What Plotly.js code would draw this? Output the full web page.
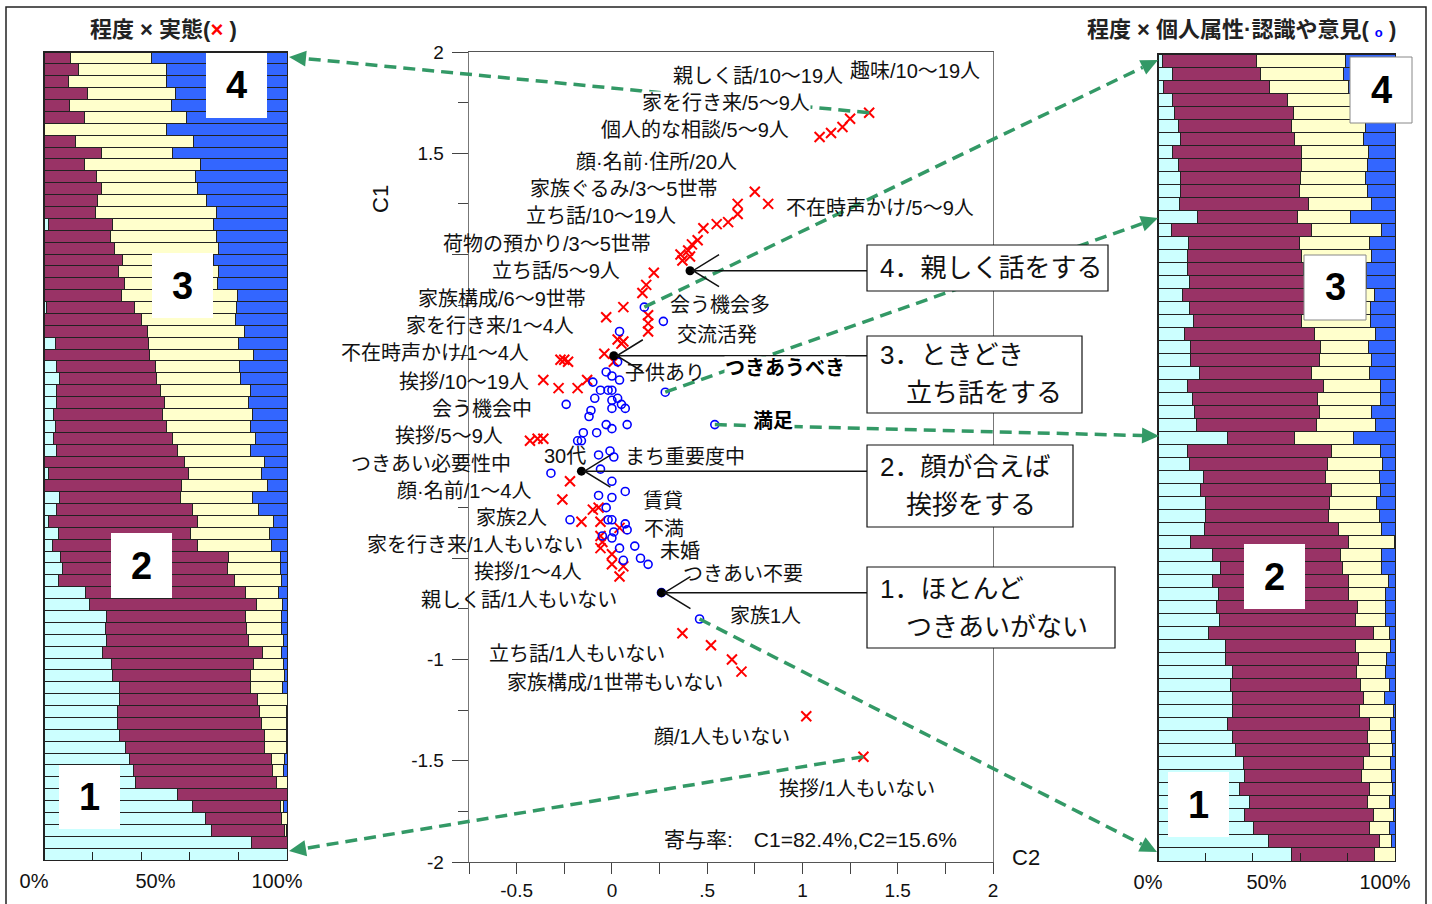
<!DOCTYPE html>
<html><head><meta charset="utf-8">
<script src="https://cdn.plot.ly/plotly-3.0.1.min.js"></script>
<style>html,body{margin:0;padding:0;background:#fff;}#chart{width:1432px;height:904px;}</style>
</head><body><div id="chart"></div>
<script>
// ---------- DATA ----------
// Left stacked bars: 程度 × 実態 (68 rows, % by level 1..4)
const leftLevel1 = [0,0,0,0,0,0,0,0,0,0,0,0,0,0,1.9,0,0,0,0,0,0,1.0,0,0,4.7,0,5.1,6.5,5.1,5.1,4.1,4.7,4.1,5.1,0,1.7,0,6.5,5.1,1.7,6.1,3.7,6.9,7.8,6.1,17.1,18.6,25.7,25.3,25.7,24.1,27.8,28.2,31.2,30.9,30.1,30.1,31.2,33.7,35.1,37.0,37.8,54.9,61.1,66.4,69.1,85.3,100];
const leftLevel2 = [11.0,14.3,10.2,17.9,10.6,16.5,0,12.9,23.7,16.8,21.6,23.7,22.0,21.2,26.3,27.4,29.2,32.3,30.5,33.0,31.9,36.4,40.2,42.6,38.5,43.6,40.6,39.9,42.9,44.3,44.6,45.8,48.9,49.8,57.8,57.7,56.7,49.8,56.1,61.4,54.3,59.4,69.2,67.9,72.2,65.8,69.0,57.2,58.2,58.6,65.7,58.4,56.9,53.9,57.1,58.5,59.3,59.6,57.1,58.7,57.2,57.7,45.1,36.4,31.5,29.8,14.7,0];
const leftLevel3 = [33.3,36.2,40.3,36.4,41.9,42.2,50.5,48.6,29.3,47.8,40.6,39.4,45.0,49.9,41.5,43.7,42.6,37.4,41.3,38.4,47.7,41.7,38.6,39.8,37.0,42.6,34.8,34.6,36.9,34.9,37.0,34.4,34.1,30.2,33.0,30.0,35.3,29.4,27.2,31.4,32.2,30.7,21.4,21.8,19.6,13.4,10.7,15.0,14.4,14.3,8.1,12.4,13.8,13.2,12.0,11.0,10.2,8.8,8.8,5.1,4.4,4.5,0,1.1,2.1,0.8,0,0];
const leftLevel4 = [55.7,49.5,49.5,45.7,47.5,41.3,49.5,38.5,47.0,35.4,37.8,36.9,33.0,28.9,30.3,28.9,28.2,30.3,28.2,28.6,20.4,20.9,21.2,17.6,19.8,13.8,19.5,19.0,15.1,15.7,14.3,15.1,12.9,14.9,9.2,10.6,8.0,14.3,11.6,5.5,7.4,6.2,2.5,2.5,2.1,3.7,1.7,2.1,2.1,1.4,2.1,1.4,1.1,1.7,0,0.4,0.4,0.4,0.4,1.1,1.4,0,0,1.4,0,0.3,0,0];
// Right stacked bars: 程度 × 個人属性・認識や意見 (62 rows)
const rightLevel1 = [2.1,6.3,2.5,6.3,6.8,8.5,9.6,6.3,8.5,9.6,9.6,8.9,16.5,5.9,12.7,12.3,12.3,13.1,10.3,13.1,15.1,11.0,13.8,13.8,17.3,12.4,14.5,15.2,16.2,29.2,12.4,13.4,19.0,17.9,20.1,20.1,19.7,13.8,23.2,26.3,23.2,25.4,24.6,25.8,21.4,28.5,28.5,31.3,30.6,31.3,31.3,29.3,31.4,32.5,35.9,36.3,34.2,38.5,36.6,40.4,46.5,56.3];
const rightLevel2 = [39.4,36.9,44.7,48.3,50.2,47.8,48.1,54.3,52.1,50.5,50.3,54.5,42.2,58.9,47.2,48.4,49.0,49.0,51.5,49.0,45.5,54.9,54.8,54.5,47.5,57.6,52.8,53.1,50.7,28.3,61.0,58.1,51.7,55.5,52.2,51.9,56.6,66.5,53.8,51.4,57.1,54.9,59.6,57.7,69.4,54.9,56.3,52.5,54.9,55.3,53.9,59.9,56.9,56.7,50.7,49.6,55.0,50.0,54.2,49.0,46.9,35.0];
const rightLevel3 = [37.8,35.0,33.3,29.4,28.5,31.4,28.9,28.1,27.9,27.6,28.4,26.7,22.7,29.3,29.3,29.4,26.7,26.0,29.7,27.6,29.1,25.9,20.3,21.8,24.4,23.7,26.6,21.8,24.9,24.9,20.3,23.3,22.7,20.3,20.0,21.4,17.8,19.3,17.4,16.4,16.9,15.5,11.9,12.3,6.8,14.5,11.7,12.3,12.1,8.8,14.1,9.0,10.3,9.8,11.6,12.7,9.7,9.1,8.5,8.2,5.2,8.7];
const rightLevel4 = [20.7,21.8,19.5,16.0,14.5,12.3,13.4,11.3,11.5,12.3,11.7,9.9,18.6,5.9,10.8,9.9,12.0,11.9,8.5,10.3,10.3,8.2,11.1,9.9,10.8,6.3,6.1,9.9,8.2,17.6,6.3,5.2,6.6,6.3,7.7,6.6,5.9,0.4,5.6,5.9,2.8,4.2,3.9,4.2,2.4,2.1,3.5,3.9,2.4,4.6,0.7,1.8,1.4,1.0,1.8,1.4,1.1,2.4,0.7,2.4,1.4,0];
// Correspondence analysis scores: 実態 categories (×)
const jittaiC2 = [1.35,1.25,1.21,1.15,1.09,0.75,0.82,0.66,0.66,0.61,0.55,0.48,0.45,0.42,0.40,0.36,0.41,0.37,0.22,0.18,0.16,0.06,-0.03,0.19,0.19,0.19,0.05,0.03,0.06,-0.04,0.01,-0.27,-0.25,-0.23,-0.36,-0.28,-0.18,-0.13,-0.43,-0.39,-0.36,-0.22,-0.26,-0.16,-0.10,-0.07,-0.06,0.04,-0.06,-0.05,-0.06,0.00,0.00,0.06,0.04,0.37,0.52,0.63,0.68,1.02,1.32];
const jittaiC1 = [1.70,1.67,1.63,1.60,1.58,1.31,1.25,1.25,1.20,1.16,1.15,1.13,1.07,1.05,1.02,1.00,0.99,0.97,0.91,0.85,0.81,0.74,0.69,0.70,0.66,0.62,0.56,0.58,0.57,0.51,0.47,0.48,0.48,0.47,0.38,0.34,0.34,0.38,0.08,0.09,0.09,-0.12,-0.21,-0.32,-0.26,-0.25,-0.32,-0.35,-0.39,-0.42,-0.45,-0.48,-0.53,-0.54,-0.59,-0.87,-0.93,-1.00,-1.06,-1.28,-1.48];
// 個人属性・認識や意見 categories (○)
const zokuseiC2 = [0.17,0.27,0.04,0.03,-0.03,0.00,0.04,-0.10,-0.06,-0.02,0.00,0.28,-0.24,-0.09,0.00,0.03,0.05,0.07,0.00,-0.11,-0.12,-0.03,0.00,0.08,-0.15,-0.08,-0.18,-0.16,0.54,-0.32,-0.01,0.01,-0.07,-0.06,0.00,0.07,-0.07,0.00,-0.03,-0.22,-0.02,0.00,0.07,0.08,0.01,-0.05,0.00,0.04,0.12,0.15,0.19,0.06,0.26,0.46];
const zokuseiC1 = [0.74,0.67,0.62,0.47,0.42,0.40,0.38,0.37,0.33,0.33,0.33,0.32,0.26,0.29,0.28,0.29,0.26,0.24,0.24,0.23,0.20,0.16,0.14,0.16,0.12,0.12,0.08,0.08,0.16,-0.08,0.03,0.00,0.01,-0.06,-0.12,-0.17,-0.19,-0.20,-0.25,-0.31,-0.31,-0.31,-0.33,-0.36,-0.37,-0.39,-0.40,-0.45,-0.44,-0.50,-0.53,-0.51,-0.67,-0.80];
// 程度 levels 1..4 (centroids)
const levelC2 = [0.26,-0.16,0.01,0.41];
const levelC1 = [-0.67,-0.07,0.50,0.92];
const levelNames = ['1．ほとんど|　つきあいがない','2．顔が合えば|　挨拶をする','3．ときどき|　立ち話をする','4．親しく話をする'];
const xTickVals = [-0.5,0,0.5,1,1.5,2];
const xTickText = ['-0.5','0','.5','1','1.5','2'];
const yTickVals = [2,1.5,1,0.5,0,-0.5,-1,-1.5,-2];
const yTickText = ['2','1.5','','','','','-1','-1.5','-2'];
const pctVals = [0,50,100];
const pctText = ['0%','50%','100%'];

// ---------- LAYOUT HELPERS ----------
const W=1432,H=904;
const PX=x=>x/W, PY=y=>1-y/H;
const MX={l:469,r:993,min:-0.75,max:2.0}, MY={t:52,b:862,min:-2,max:2};
function d2p(x,y){return [MX.l+(x-MX.min)/(MX.max-MX.min)*(MX.r-MX.l), MY.b-(y-MY.min)/(MY.max-MY.min)*(MY.b-MY.t)];}
const F="'Liberation Sans','Noto Sans CJK JP',sans-serif";
const segColors=['#CCFFFF','#993366','#FFFFCC','#3366FF'];
const green='#339966';

const traces=[];
const rowsL=leftLevel1.map((_,i)=>i+1), rowsR=rightLevel1.map((_,i)=>i+1);
[leftLevel1,leftLevel2,leftLevel3,leftLevel4].forEach((v,k)=>traces.push({type:'bar',orientation:'h',x:v,y:rowsL,xaxis:'x2',yaxis:'y2',marker:{color:segColors[k],line:{color:'#222',width:1}},showlegend:false,hoverinfo:'skip'}));
[rightLevel1,rightLevel2,rightLevel3,rightLevel4].forEach((v,k)=>traces.push({type:'bar',orientation:'h',x:v,y:rowsR,xaxis:'x3',yaxis:'y3',marker:{color:segColors[k],line:{color:'#222',width:1}},showlegend:false,hoverinfo:'skip'}));
traces.push({type:'scatter',mode:'markers',x:jittaiC2,y:jittaiC1,xaxis:'x',yaxis:'y',marker:{symbol:'x-thin-open',size:10,line:{color:'#ff0000',width:2},color:'#ff0000'},showlegend:false,hoverinfo:'skip',cliponaxis:false});
traces.push({type:'scatter',mode:'markers',x:zokuseiC2,y:zokuseiC1,xaxis:'x',yaxis:'y',marker:{symbol:'circle-open',size:8,line:{color:'#0000ff',width:1.6},color:'#0000ff'},showlegend:false,hoverinfo:'skip',cliponaxis:false});

const shapes=[], ann=[];
// outer frame
shapes.push({type:'rect',xref:'paper',yref:'paper',x0:PX(6),x1:PX(1426),y0:PY(7),y1:PY(940),line:{color:'#222',width:1.5},fillcolor:'rgba(0,0,0,0)',layer:'above'});

// dashed green arrows: tail at a plotted point, head on a bar row
function dashArrow(tx,ty,hx,hy){
  const [x1,y1]=d2p(tx,ty);
  const dx=hx-x1, dy=hy-y1, L=Math.hypot(dx,dy), ux=dx/L, uy=dy/L;
  const bx=hx-ux*17, by=hy-uy*17;
  shapes.push({type:'line',xref:'paper',yref:'paper',x0:PX(x1),y0:PY(y1),x1:PX(bx),y1:PY(by),line:{color:green,width:3.5,dash:'12px,7px'},layer:'above'});
  const nx=-uy, ny=ux;
  shapes.push({type:'path',xref:'paper',yref:'paper',path:`M ${PX(hx)} ${PY(hy)} L ${PX(bx+nx*8)} ${PY(by+ny*8)} L ${PX(bx-nx*8)} ${PY(by-ny*8)} Z`,fillcolor:green,line:{width:0},layer:'above'});
}
dashArrow(jittaiC2[0],jittaiC1[0],289,57);
dashArrow(zokuseiC2[0],zokuseiC1[0],1158,60);
dashArrow(zokuseiC2[11],zokuseiC1[11],1158,218);
dashArrow(zokuseiC2[28],zokuseiC1[28],1159,436);
dashArrow(zokuseiC2[53],zokuseiC1[53],1157,852);
dashArrow(jittaiC2[60],jittaiC1[60],289,851);

// level boxes
const boxes=[[867,567,1115,648],[867,445,1073,527],[867,336,1082,413],[867,245,1108,291]];
boxes.forEach((b,i)=>{
  shapes.push({type:'rect',xref:'paper',yref:'paper',x0:PX(b[0]),x1:PX(b[2]),y0:PY(b[1]),y1:PY(b[3]),fillcolor:'#fff',line:{color:'#111',width:1.2},layer:'above'});
  const lines=levelNames[i].split('|');
  const cy=(b[1]+b[3])/2;
  lines.forEach((t,j)=>{
    const yy = lines.length===1? cy : cy + (j===0?-19:19);
    ann.push({text:t,xref:'paper',yref:'paper',x:PX(b[0]+11),y:PY(yy),xanchor:'left',yanchor:'middle',showarrow:false,font:{family:F,size:26,color:'#111'}});
  });
  // centroid pointer
  const [cx,cyy]=d2p(levelC2[i],levelC1[i]);
  const x0=cx+3;
  shapes.push({type:'path',xref:'paper',yref:'paper',path:`M ${PX(x0)} ${PY(cyy)} L ${PX(b[0])} ${PY(cyy)} M ${PX(x0+26)} ${PY(cyy-16)} L ${PX(x0)} ${PY(cyy)} L ${PX(x0+26)} ${PY(cyy+16)}`,line:{color:'#111',width:1.5},layer:'above'});
});
traces.push({type:'scatter',mode:'markers',x:levelC2,y:levelC1,xaxis:'x',yaxis:'y',marker:{symbol:'circle',size:9,color:'#000'},showlegend:false,hoverinfo:'skip'});

// number boxes on bar charts
const numBoxes=[[206,53,267,118,'4',0],[152,253,213,318,'3',0],[111,533,172,598,'2',0],[59,765,120,829,'1',0],
                [1350,57,1412,123,'4',1],[1304,255,1366,320,'3',1],[1244,544,1305,609,'2',0],[1168,772,1229,837,'1',0]];
numBoxes.forEach(b=>{
  shapes.push({type:'rect',xref:'paper',yref:'paper',x0:PX(b[0]),x1:PX(b[2]),y0:PY(b[1]),y1:PY(b[3]),fillcolor:'#fff',line:{color:b[5]?'#888':'rgba(0,0,0,0)',width:1},layer:'above'});
  ann.push({text:'<b>'+b[4]+'</b>',xref:'paper',yref:'paper',x:PX((b[0]+b[2])/2),y:PY((b[1]+b[3])/2),xanchor:'center',yanchor:'middle',showarrow:false,font:{family:F,size:38,color:'#000'}});
});

// category labels in the map
const labels=[
 ['親しく話/10～19人',675,840,76],['趣味/10～19人',845,985,71],['家を行き来/5～9人',641,812,103,1],
 ['個人的な相談/5～9人',596,793,130],['顔·名前·住所/20人',567,745,162],['家族ぐるみ/3～5世帯',527,720,189],
 ['不在時声かけ/5～9人',780,980,208],['立ち話/10～19人',523,678,216],['荷物の預かり/3～5世帯',439,655,244],
 ['立ち話/5～9人',490,622,271],['家族構成/6～9世帯',412,591,299],['会う機会多',670,770,305],
 ['家を行き来/1～4人',404,576,326],['交流活発',674,760,335],['不在時声かけ/1～4人',336,534,353],
 ['子供あり',627,703,373],['挨拶/10～19人',395,532,382],['会う機会中',432,531,409],
 ['挨拶/5～9人',392,505,436],['30代',542,587,456],['まち重要度中',623,746,457],
 ['つきあい必要性中',350,512,464],['顔·名前/1～4人',390,537,491],['賃貸',642,684,501],
 ['家族2人',474,549,518],['不満',643,684,529],['家を行き来/1人もいない',367,582,545],
 ['未婚',659,700,551],['挨拶/1～4人',471,585,572],['つきあい不要',683,802,574],
 ['親しく話/1人もいない',425,612,600],['家族1人',728,802,616],['立ち話/1人もいない',488,665,654],
 ['家族構成/1世帯もいない',503,727,683],['顔/1人もいない',654,790,737],['挨拶/1人もいない',778,935,789]
];
labels.forEach(l=>{
  const a={text:l[0],xref:'paper',yref:'paper',x:PX((l[1]+l[2])/2),y:PY(l[3]),xanchor:'center',yanchor:'middle',showarrow:false,font:{family:F,size:20,color:'#111'}};
  if(l[4]){a.bgcolor='#fff';a.borderpad=0;}
  ann.push(a);
});
ann.push({text:'<b>つきあうべき</b>',xref:'paper',yref:'paper',x:PX(785),y:PY(368),xanchor:'center',yanchor:'middle',showarrow:false,bgcolor:'#fff',borderpad:0,font:{family:F,size:20,color:'#000'}});
ann.push({text:'<b>満足</b>',xref:'paper',yref:'paper',x:PX(773),y:PY(421),xanchor:'center',yanchor:'middle',showarrow:false,bgcolor:'#fff',borderpad:1,font:{family:F,size:20,color:'#000'}});
ann.push({text:'寄与率:　C1=82.4%,C2=15.6%',xref:'paper',yref:'paper',x:PX(810),y:PY(839),xanchor:'center',yanchor:'middle',showarrow:false,font:{family:F,size:21,color:'#111'}});
ann.push({text:'C1',xref:'paper',yref:'paper',x:PX(381),y:PY(199),xanchor:'center',yanchor:'middle',textangle:-90,showarrow:false,font:{family:F,size:22,color:'#111'}});
ann.push({text:'C2',xref:'paper',yref:'paper',x:PX(1026),y:PY(857),xanchor:'center',yanchor:'middle',showarrow:false,font:{family:F,size:22,color:'#111'}});
// panel titles
ann.push({text:'程度 × 実態(<span style="color:#ff0000">×</span> )',xref:'paper',yref:'paper',x:PX(163),y:PY(30),xanchor:'center',yanchor:'middle',showarrow:false,font:{family:F,size:22,color:'#222',weight:'bold'}});
ann.push({text:'程度 × 個人属性·認識や意見( <span style="color:#0000ff;font-size:13px">o</span> )',xref:'paper',yref:'paper',x:PX(1241),y:PY(30),xanchor:'center',yanchor:'middle',showarrow:false,font:{family:F,size:22,color:'#222',weight:'bold'}});

const pctAxis=(l,r,yanchor)=>({domain:[PX(l),PX(r)],anchor:yanchor,range:[0,100],tickmode:'array',tickvals:pctVals,ticktext:pctText,ticks:'',
  minor:{tickmode:'array',tickvals:[20,40,60,80],ticks:'inside',ticklen:8,tickcolor:'#222',tickwidth:1.2,showgrid:false},
  showline:true,mirror:true,linecolor:'#222',linewidth:1.2,showgrid:false,zeroline:false,fixedrange:true,ticklabelstandoff:3,ticklabelshift:-10,
  tickfont:{family:F,size:20,color:'#111'}});

const layout={
  width:W,height:H,margin:{l:0,r:0,t:0,b:0},paper_bgcolor:'#fff',plot_bgcolor:'rgba(0,0,0,0)',
  barmode:'stack',bargap:0,showlegend:false,
  xaxis:{domain:[PX(MX.l),PX(MX.r)],anchor:'y',range:[MX.min,MX.max],tickmode:'array',tickvals:xTickVals,ticktext:xTickText,
    ticks:'outside',ticklen:11,tickcolor:'#444',minor:{tick0:0,dtick:0.25,ticks:'outside',ticklen:11,tickcolor:'#444',showgrid:false},
    showline:true,mirror:true,linecolor:'#555',linewidth:1.3,showgrid:false,zeroline:false,ticklabelstandoff:0,
    tickfont:{family:F,size:19,color:'#111'}},
  yaxis:{domain:[PY(MY.b),PY(MY.t)],anchor:'x',range:[MY.min,MY.max],tickmode:'array',tickvals:yTickVals,ticktext:yTickText,
    ticks:'outside',ticklen:16,tickcolor:'#444',minor:{tick0:0,dtick:0.25,ticks:'outside',ticklen:10,tickcolor:'#444',showgrid:false},
    showline:true,mirror:true,linecolor:'#777',linewidth:1.3,showgrid:false,zeroline:false,ticklabelstandoff:4,
    tickfont:{family:F,size:19,color:'#111'}},
  xaxis2:pctAxis(44,287,'y2'),
  yaxis2:{domain:[PY(860),PY(52)],anchor:'x2',range:[leftLevel1.length+0.5,0.5],showticklabels:false,ticks:'',showline:true,mirror:true,linecolor:'#222',linewidth:1.2,showgrid:false,zeroline:false},
  xaxis3:pctAxis(1158,1395,'y3'),
  yaxis3:{domain:[PY(861),PY(54)],anchor:'x3',range:[rightLevel1.length+0.5,0.5],showticklabels:false,ticks:'',showline:true,mirror:true,linecolor:'#222',linewidth:1.2,showgrid:false,zeroline:false},
  shapes:shapes,annotations:ann
};
Plotly.newPlot('chart',traces,layout,{displayModeBar:false,staticPlot:true});
</script></body></html>
